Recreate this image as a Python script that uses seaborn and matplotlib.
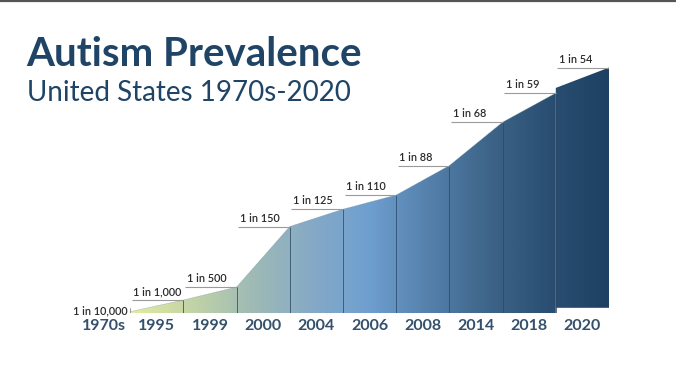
import numpy as np
import pandas as pd
import matplotlib
matplotlib.use("Agg")
import matplotlib.pyplot as plt
import seaborn as sns
from matplotlib.colors import LinearSegmentedColormap

years = ["1970s", "1995", "1999", "2000", "2004", "2006", "2008", "2014", "2018", "2020"]
one_in = [10000, 1000, 500, 150, 125, 110, 88, 68, 59, 54]
labels = ["1 in 10,000", "1 in 1,000", "1 in 500", "1 in 150", "1 in 125",
          "1 in 110", "1 in 88", "1 in 68", "1 in 59", "1 in 54"]

df = pd.DataFrame({"year": years, "one_in": one_in, "label": labels})
df["rate"] = 1000 / df["one_in"]   # cases per 1,000 children
df["pos"] = np.arange(len(df))

sns.set_theme(style="white")
plt.rcParams["font.family"] = ["Lato", "DejaVu Sans"]

navy = "#1f4466"
fig = plt.figure(figsize=(6.76, 3.8), dpi=100)
fig.patch.set_facecolor("white")

# thin grey rule along the top edge
fig.add_artist(plt.Line2D([0, 1], [0.998, 0.998], color="#555555", lw=1.6,
                          transform=fig.transFigure))

fig.text(26 / 676, 1 - 55 / 380, "Autism Prevalence", fontsize=29, fontweight="bold",
         color=navy, va="center", ha="left")
fig.text(27 / 676, 1 - 93 / 380, "United States 1970s-2020", fontsize=20,
         fontweight="normal", color=navy, va="center", ha="left")

ax = fig.add_axes([77 / 676, 67 / 380, 532 / 676, 253 / 380])
ax.set_xlim(-1, 9)
ax.set_ylim(0, 19.5)
ax.axis("off")

cmap = LinearSegmentedColormap.from_list(
    "prev", ["#e4eca0", "#c3d4a6", "#a0bbb5", "#86aac6", "#6f9fd0",
             "#5480ab", "#3e6589", "#2a4f72", "#1d4163"])
grad = np.linspace(0, 1, 400).reshape(1, -1)

x = df["pos"].to_numpy(dtype=float)
y = df["rate"].to_numpy()

# main area up to 2018, the 2020 block sits a touch higher like in the original
main = df["pos"] <= 8
poly = ax.fill_between(x[main], y[main], color="none", lw=0)
im = ax.imshow(grad, extent=[0, 9, 0, 19.5], aspect="auto", cmap=cmap, zorder=1)
im.set_clip_path(poly.get_paths()[0], transform=ax.transData)

lift = 0.4
last = df["pos"] >= 8
poly2 = ax.fill_between(x[last], y[last] + lift, lift, color="none", lw=0)
im2 = ax.imshow(grad, extent=[0, 9, 0, 19.5], aspect="auto", cmap=cmap, zorder=1)
im2.set_clip_path(poly2.get_paths()[0], transform=ax.transData)

sns.lineplot(data=df[main], x="pos", y="rate", ax=ax, color="#6f8fa8",
             lw=0.4, alpha=0.5, zorder=2)

# separators between the years
for i in range(1, 9):
    ax.plot([x[i], x[i]], [0, y[i]], color="#2e4a66", lw=0.7, alpha=0.8, zorder=3)
ax.plot([0, 0], [0, 0.35], color="#999999", lw=0.7, zorder=3)
ax.plot([9, 9], [0, lift], color="#999999", lw=0.7, zorder=3)

# value labels with the grey underline reaching to each point
for i in range(len(df)):
    if i == 0:
        ax.text(x[0] - 0.05, y[0] + 0.05, labels[0], fontsize=7.8, fontweight="semibold",
                color="#2b2b2b", ha="right", va="center")
        continue
    yy = y[i] + (lift if i == 9 else 0)
    ax.plot([x[i - 1] + 0.03, x[i]], [yy, yy], color="#9a9a9a", lw=0.8, zorder=3,
            solid_capstyle="butt")
    ax.text(x[i - 1] + 0.06, yy + 0.22, labels[i], fontsize=7.8, fontweight="semibold",
            color="#2b2b2b", ha="left", va="bottom")

# year labels centred under each block
for i, yr in enumerate(years):
    ax.text(x[i] - 0.5, -1.0, yr, fontsize=11.5, fontweight="bold", color="#34506b",
            ha="center", va="center", clip_on=False)

fig.savefig("out.png", dpi=100, facecolor="white")
